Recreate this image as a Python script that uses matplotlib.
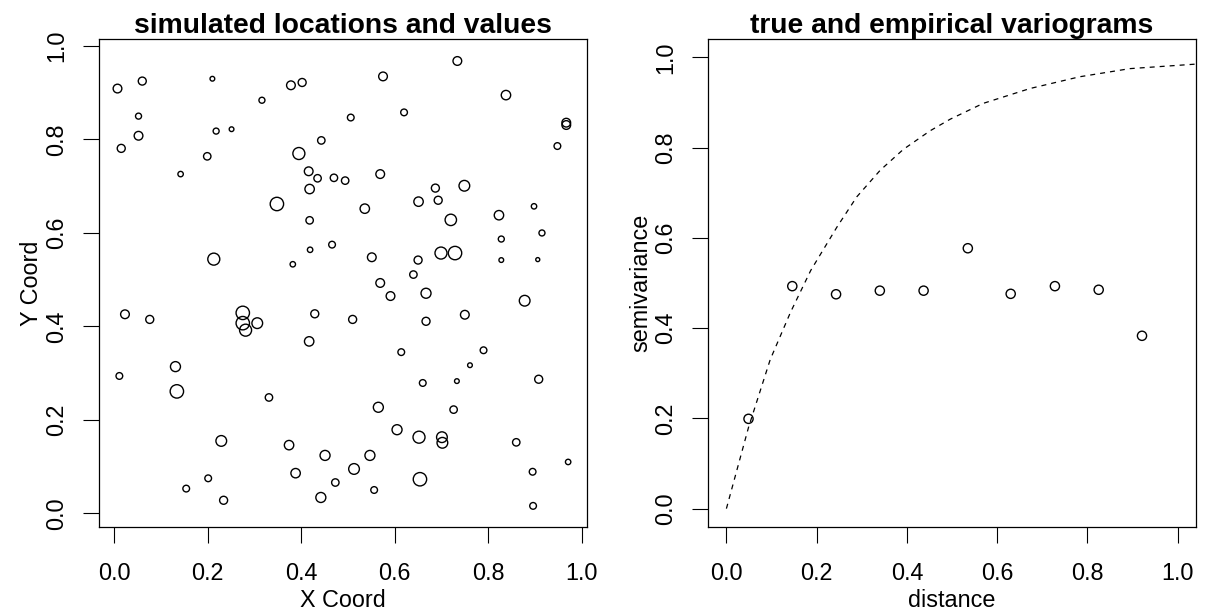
"""Simulated spatial data and variograms, two panels side by side."""

import numpy as np
import matplotlib
matplotlib.use('Agg')
import matplotlib.pyplot as plt

plt.rcParams['font.family'] = ['Liberation Sans', 'DejaVu Sans']

# Left panel: simulated locations and (relative) values shown as circle size
x_coord = [
    0.007, 0.060, 0.210, 0.378, 0.402, 0.316, 0.052, 0.052, 0.015, 0.218,
    0.251, 0.199, 0.443, 0.395, 0.416, 0.435, 0.470, 0.418, 0.142, 0.348,
    0.418, 0.466, 0.419, 0.382, 0.213, 0.023, 0.076, 0.275, 0.275, 0.281,
    0.306, 0.429, 0.417, 0.011, 0.131, 0.134, 0.331, 0.229, 0.374, 0.451,
    0.388, 0.201, 0.154, 0.234, 0.442, 0.473, 0.734, 0.575, 0.838, 0.506,
    0.620, 0.967, 0.967, 0.948, 0.494, 0.569, 0.687, 0.749, 0.693, 0.651,
    0.536, 0.720, 0.823, 0.898, 0.915, 0.828, 0.828, 0.906, 0.699, 0.729,
    0.551, 0.650, 0.640, 0.569, 0.591, 0.667, 0.878, 0.510, 0.667, 0.750,
    0.614, 0.790, 0.761, 0.733, 0.660, 0.908, 0.565, 0.726, 0.605, 0.652,
    0.701, 0.702, 0.860, 0.547, 0.513, 0.654, 0.556, 0.895, 0.971, 0.896,
]
y_coord = [
    0.909, 0.925, 0.930, 0.916, 0.922, 0.884, 0.850, 0.808, 0.781, 0.818,
    0.822, 0.764, 0.798, 0.770, 0.732, 0.717, 0.718, 0.694, 0.726, 0.662,
    0.627, 0.575, 0.564, 0.533, 0.544, 0.426, 0.415, 0.429, 0.407, 0.392,
    0.407, 0.427, 0.368, 0.294, 0.314, 0.261, 0.248, 0.155, 0.146, 0.124,
    0.086, 0.075, 0.053, 0.028, 0.034, 0.066, 0.968, 0.935, 0.895, 0.847,
    0.858, 0.836, 0.831, 0.786, 0.712, 0.726, 0.696, 0.701, 0.670, 0.667,
    0.652, 0.628, 0.638, 0.657, 0.600, 0.587, 0.542, 0.543, 0.557, 0.557,
    0.548, 0.542, 0.511, 0.493, 0.465, 0.471, 0.455, 0.415, 0.411, 0.425,
    0.345, 0.349, 0.317, 0.283, 0.279, 0.287, 0.227, 0.222, 0.179, 0.163,
    0.163, 0.151, 0.152, 0.124, 0.095, 0.073, 0.050, 0.089, 0.110, 0.016,
]
values = [
    1.00, 0.93, 0.60, 1.00, 0.93, 0.73, 0.73, 1.00, 0.93, 0.73,
    0.60, 0.87, 0.87, 1.33, 1.00, 0.87, 0.87, 1.07, 0.67, 1.47,
    0.87, 0.80, 0.67, 0.67, 1.33, 1.00, 0.93, 1.47, 1.47, 1.33,
    1.20, 0.93, 1.07, 0.80, 1.13, 1.47, 0.87, 1.20, 1.07, 1.13,
    1.07, 0.80, 0.80, 0.93, 1.13, 0.87, 1.00, 1.00, 1.07, 0.80,
    0.80, 1.00, 1.00, 0.80, 0.87, 1.00, 0.93, 1.20, 0.93, 1.07,
    1.07, 1.27, 1.07, 0.67, 0.73, 0.73, 0.60, 0.53, 1.33, 1.47,
    1.00, 0.93, 0.87, 1.00, 1.00, 1.13, 1.20, 0.93, 0.93, 1.00,
    0.80, 0.80, 0.60, 0.60, 0.80, 0.93, 1.13, 0.87, 1.13, 1.33,
    1.20, 1.20, 0.87, 1.13, 1.20, 1.47, 0.80, 0.80, 0.67, 0.80,
]

# Right panel: empirical variogram bins
vario_dist = [0.049, 0.146, 0.243, 0.340, 0.437, 0.535, 0.630, 0.728, 0.825, 0.921]
vario_gamma = [0.199, 0.493, 0.475, 0.483, 0.483, 0.577, 0.476, 0.493, 0.485, 0.383]

# true variogram
true_dist = [0.0, 0.049, 0.097, 0.142, 0.171, 0.187, 0.245, 0.289, 0.341,
             0.392, 0.451, 0.496, 0.569, 0.673, 0.783, 0.894, 1.04]
true_gamma = [0.0, 0.18, 0.33, 0.435, 0.495, 0.528, 0.624, 0.691, 0.750,
              0.796, 0.837, 0.863, 0.898, 0.931, 0.957, 0.975, 0.985]

TICK_SIZE = 16.8
TITLE_SIZE = 20.3
LW = 1.0


def _circle_sizes(vals):
    """Circle area (points^2) for relative value, cex style."""
    diam_px = 10.0 * np.asarray(vals) - 1.3
    return (diam_px * 0.72) ** 2


def _style_axes(ax, title, xlabel, ylabel):
    ax.set_title(title, fontsize=TITLE_SIZE, fontweight='bold', pad=-1.2)
    ax.set_xlabel(xlabel, fontsize=TICK_SIZE, labelpad=2.9)
    ax.set_ylabel(ylabel, fontsize=TICK_SIZE, labelpad=1.5)
    ticks = np.arange(0, 1.01, 0.2)
    ax.set_xticks(ticks)
    ax.set_yticks(ticks)
    ax.set_xticklabels([f'{t:.1f}' for t in ticks])
    ax.set_yticklabels([f'{t:.1f}' for t in ticks], rotation=90, va='center')
    ax.tick_params(axis='x', length=11.5, width=0.8, pad=13.7,
                   labelsize=TICK_SIZE, direction='out')
    ax.tick_params(axis='y', length=11.5, width=0.8, pad=10.8,
                   labelsize=TICK_SIZE, direction='out')
    for sp in ax.spines.values():
        sp.set_linewidth(0.9)


fig = plt.figure(figsize=(12.09, 6.16), dpi=100)
ax1 = fig.add_axes([0.0821, 0.1450, 0.4031, 0.7912])
ax2 = fig.add_axes([0.5859, 0.1450, 0.4031, 0.7912])

# locations, circle size ~ value
ax1.scatter(x_coord, y_coord, s=_circle_sizes(values), facecolors='none',
            edgecolors='black', linewidths=LW)
ax1.set_xlim(-0.032, 1.0105)
ax1.set_ylim(-0.0285, 1.0144)
_style_axes(ax1, 'simulated locations and values', 'X Coord', 'Y Coord')

# variograms
ax2.plot(true_dist, true_gamma, color='black', lw=0.9, dashes=(4, 4))
ax2.scatter(vario_dist, vario_gamma, s=_circle_sizes([1.05] * len(vario_dist)),
            facecolors='none', edgecolors='black', linewidths=LW, zorder=3)
ax2.set_xlim(-0.04, 1.04)
ax2.set_ylim(-0.04, 1.04)
_style_axes(ax2, 'true and empirical variograms', 'distance', 'semivariance')

fig.savefig('out.png', dpi=100)
plt.close(fig)
